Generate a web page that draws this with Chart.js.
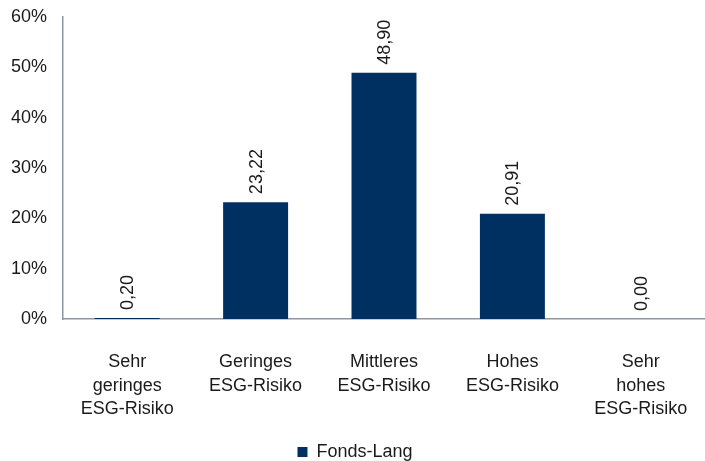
<!DOCTYPE html>
<html>
<head>
<meta charset="utf-8">
<script src="https://cdn.jsdelivr.net/npm/chart.js@4/dist/chart.umd.min.js"></script>
<style>
  html, body { margin: 0; padding: 0; background: #fff; }
  #wrap { width: 705px; height: 461px; position: relative; }
</style>
</head>
<body>
<div id="wrap"><canvas id="c"></canvas></div>
<script>
  var categories = [
    ['Sehr', 'geringes', 'ESG-Risiko'],
    ['Geringes', 'ESG-Risiko'],
    ['Mittleres', 'ESG-Risiko'],
    ['Hohes', 'ESG-Risiko'],
    ['Sehr', 'hohes', 'ESG-Risiko']
  ];
  var seriesName = 'Fonds-Lang';
  var values = [0.20, 23.22, 48.90, 20.91, 0.00];
  var yTicks = [0, 10, 20, 30, 40, 50, 60];

  var NAVY = '#002f62';
  var AXIS = '#8d97a4';
  var INK = '#1a1a1a';
  var FONT = '"Liberation Sans", Arial, sans-serif';

  /* rotated value labels above each bar */
  var valueLabels = {
    id: 'valueLabels',
    afterDatasetsDraw: function (chart) {
      var ctx = chart.ctx;
      var meta = chart.getDatasetMeta(0);
      ctx.save();
      ctx.font = '18px ' + FONT;
      ctx.fillStyle = INK;
      ctx.textAlign = 'left';
      ctx.textBaseline = 'middle';
      meta.data.forEach(function (bar, i) {
        ctx.save();
        ctx.translate(bar.x + 1, bar.y - 8);
        ctx.rotate(-Math.PI / 2);
        ctx.fillText(values[i].toFixed(2).replace('.', ','), 0, 0);
        ctx.restore();
      });
      ctx.restore();
    }
  };

  new Chart(document.getElementById('c'), {
    type: 'bar',
    data: {
      labels: categories,
      datasets: [{
        label: seriesName,
        data: values,
        backgroundColor: NAVY,
        borderColor: NAVY,
        borderWidth: 0,
        barPercentage: 1,
        categoryPercentage: 0.506
      }]
    },
    options: {
      responsive: true,
      maintainAspectRatio: false,
      animation: false,
      layout: { padding: { top: 17, right: -5, bottom: -10, left: 0 } },
      plugins: {
        legend: {
          position: 'bottom',
          labels: {
            boxWidth: 10, boxHeight: 10, padding: 0,
            color: INK, font: { family: FONT, size: 18 }
          }
        },
        tooltip: { enabled: false }
      },
      scales: {
        x: {
          grid: { display: false, drawTicks: false },
          border: { color: AXIS, width: 1.5 },
          ticks: {
            color: INK, padding: 32, maxRotation: 0, autoSkip: false,
            font: { family: FONT, size: 18, lineHeight: 1.28 }
          },
          afterFit: function (s) { s.height = 124; s.paddingLeft = 0; s.paddingRight = 0; }
        },
        y: {
          min: 0, max: 60,
          grid: { display: false, drawTicks: false },
          border: { color: AXIS, width: 1.5 },
          afterBuildTicks: function (s) {
            s.ticks = yTicks.map(function (v) { return { value: v }; });
          },
          ticks: {
            color: INK, padding: 16,
            font: { family: FONT, size: 18 },
            callback: function (v) { return v + '%'; }
          },
          afterFit: function (s) { s.width = 63; s.paddingTop = 0; s.paddingBottom = 0; }
        }
      }
    },
    plugins: [valueLabels]
  });
</script>
</body>
</html>
